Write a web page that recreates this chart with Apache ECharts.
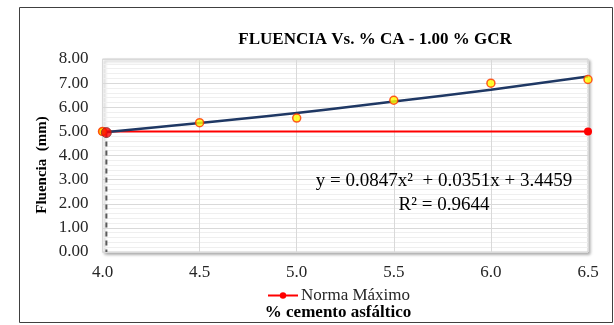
<!DOCTYPE html>
<html>
<head>
<meta charset="utf-8">
<script src="https://cdn.jsdelivr.net/npm/echarts@6/dist/echarts.min.js"></script>
<style>html,body{margin:0;padding:0;background:#fff;}#c{width:614px;height:325px;}</style>
</head>
<body>
<div id="c"></div>
<script>
// Data
var pctCA = [4.0, 4.5, 5.0, 5.5, 6.0, 6.5];
var fluencia = [5.00, 5.36, 5.55, 6.29, 7.00, 7.15];
var trendX = [4.0, 4.5, 5.0, 5.5, 6.0, 6.5];
var trendY = [4.95, 5.35, 5.76, 6.24, 6.73, 7.27];
var normaX = [4.0, 6.5];
var normaY = [5.00, 5.00];
var optX = [4.02, 4.02];
var optY = [4.95, 0];
var xTicks = ['4.0', '4.5', '5.0', '5.5', '6.0', '6.5'];
var yTicks = ['0.00', '1.00', '2.00', '3.00', '4.00', '5.00', '6.00', '7.00', '8.00'];
var titleText = 'FLUENCIA Vs. % CA - 1.00 % GCR';
var xTitle = '% cemento asfáltico';
var yTitle = 'Fluencia  (mm)';
var eqText = 'y = 0.0847x\u00B2  + 0.0351x + 3.4459';
var r2Text = 'R\u00B2 = 0.9644';

function zip(a, b) { return a.map(function (v, i) { return [v, b[i]]; }); }

var FONT = '"Liberation Serif", "Times New Roman", serif';
var chart = echarts.init(document.getElementById('c'), null, { renderer: 'canvas' });
chart.setOption({
  animation: false,
  backgroundColor: '#fff',
  grid: {
    left: 102.5, right: 26, top: 59, bottom: 73,
    show: true, backgroundColor: '#fff', borderColor: '#d0d0d0', borderWidth: 1,
    shadowColor: 'rgba(0,0,0,0.35)', shadowBlur: 3, shadowOffsetX: 2, shadowOffsetY: 2
  },
  xAxis: {
    type: 'value', min: 4, max: 6.5, interval: 0.5,
    axisLine: { show: false }, axisTick: { show: false },
    axisLabel: {
      margin: 12, fontFamily: FONT, fontSize: 17, color: '#262626',
      formatter: function (v) { var i = Math.round((v - 4) / 0.5); return xTicks[i] !== undefined ? xTicks[i] : ''; }
    },
    splitLine: { show: true, lineStyle: { color: '#d9d9d9', width: 1 } }
  },
  yAxis: {
    type: 'value', min: 0, max: 8, interval: 1,
    axisLine: { show: false }, axisTick: { show: false },
    axisLabel: {
      margin: 14, fontFamily: FONT, fontSize: 17, color: '#262626',
      formatter: function (v) { var i = Math.round(v); return yTicks[i] !== undefined ? yTicks[i] : ''; }
    },
    splitLine: { show: true, lineStyle: { color: '#d9d9d9', width: 1 } },
    minorTick: { show: false, splitNumber: 5 },
    minorSplitLine: { show: true, lineStyle: { color: '#efefef', width: 1 } }
  },
  legend: {
    data: ['Norma Máximo'], top: 282, left: 262,
    itemWidth: 30, itemHeight: 8, itemGap: 4,
    textStyle: { fontFamily: FONT, fontSize: 17, color: '#262626', padding: [0, 0, 0, -2] }
  },
  graphic: [
    { type: 'rect', silent: true, shape: { x: 19.5, y: 7.5, width: 593, height: 315 },
      style: { fill: 'none', stroke: '#404040', lineWidth: 1 }, z: -10 },
    { type: 'text', silent: true, style: { x: 375, y: 40, text: titleText, textAlign: 'center', textVerticalAlign: 'middle',
      font: 'bold 17px ' + FONT, fill: '#000' } },
    { type: 'text', silent: true, style: { x: 338, y: 313, text: xTitle, textAlign: 'center', textVerticalAlign: 'middle',
      font: 'bold 17px ' + FONT, fill: '#000' } },
    { type: 'text', silent: true, x: 42, y: 165, rotation: Math.PI / 2,
      style: { x: 0, y: 0, text: yTitle, textAlign: 'center', textVerticalAlign: 'middle',
      font: 'bold 15px ' + FONT, fill: '#000' } },
    { type: 'text', silent: true, style: { x: 444, y: 181, text: eqText, textAlign: 'center', textVerticalAlign: 'middle',
      font: '19px ' + FONT, fill: '#000' }, z: 100 },
    { type: 'text', silent: true, style: { x: 444, y: 205, text: r2Text, textAlign: 'center', textVerticalAlign: 'middle',
      font: '19px ' + FONT, fill: '#000' }, z: 100 }
  ],
  series: [
    {
      name: 'Tendencia', type: 'line', data: zip(trendX, trendY), smooth: true, showSymbol: false, symbol: 'none',
      lineStyle: { color: '#1F3864', width: 2.5 }, z: 3
    },
    {
      name: 'Norma Máximo', type: 'line', data: zip(normaX, normaY), symbol: 'circle', symbolSize: 8,
      itemStyle: { color: '#FF0000' }, lineStyle: { color: '#FF0000', width: 2 }, z: 2
    },
    {
      name: 'Optimo', type: 'line', data: zip(optX, optY), symbol: 'none',
      lineStyle: { color: '#595959', width: 2, type: [5, 4] }, z: 2
    },
    {
      name: 'OptimoPunto', type: 'scatter', data: [[optX[0], optY[0]]], symbol: 'circle', symbolSize: 10,
      itemStyle: { color: '#FF0000', borderColor: '#7f3030', borderWidth: 1 }, z: 5
    },
    {
      name: 'Datos', type: 'scatter', data: zip(pctCA, fluencia), symbol: 'circle', symbolSize: 8,
      itemStyle: { color: '#FFFF00', borderColor: '#FF3300', borderWidth: 1.5 }, z: 4
    }
  ]
});
</script>
</body>
</html>
